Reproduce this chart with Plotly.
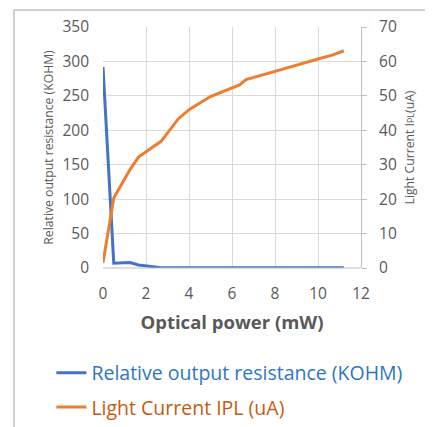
import plotly.graph_objects as go

power_mw = [0, 0.5, 1.25, 1.65, 2.7, 3.5, 4.0, 5.0, 6.35, 6.65, 8.0, 9.0, 10.0, 10.7, 11.2]
resistance_kohm = [292, 7, 8, 4.5, 0.5, 0.4, 0.4, 0.3, 0.3, 0.3, 0.3, 0.3, 0.3, 0.3, 0.3]
light_current_ua = [1.5, 20.3, 28.5, 32.2, 36.8, 43.3, 46.0, 49.8, 53.2, 54.7, 57.1, 59.0, 60.7, 61.9, 63.1]

x_ticks = [0, 2, 4, 6, 8, 10, 12]
y1_ticks = [0, 50, 100, 150, 200, 250, 300, 350]
y2_ticks = [0, 10, 20, 30, 40, 50, 60, 70]

FONT = "Open Sans, Liberation Sans, sans-serif"
GRID = "#d9d9d9"
TICKC = "#595959"

fig = go.Figure()
fig.add_trace(go.Scatter(
    x=power_mw, y=resistance_kohm, mode="lines",
    name="<span style='color:#2e75c8'>Relative output resistance (KOHM)</span>",
    legendgroup="a",
    line=dict(color="#4472C4", width=3), yaxis="y"))
fig.add_trace(go.Scatter(
    x=power_mw, y=light_current_ua, mode="lines",
    name="<span style='color:#c55a11'>Light Current IPL (uA)</span>",
    legendgroup="b",
    line=dict(color="#ED7D31", width=3), yaxis="y2"))

fig.update_layout(
    width=433, height=427,
    margin=dict(l=95, r=80, t=19, b=167, autoexpand=False),
    paper_bgcolor="white", plot_bgcolor="white",
    font=dict(family=FONT, color=TICKC),
    showlegend=True,
    legend=dict(x=-0.2, y=-0.355, xanchor="left", yanchor="top",
                font=dict(size=19.5), tracegroupgap=6, itemwidth=30,
                traceorder="grouped", bgcolor="rgba(0,0,0,0)"),
    xaxis=dict(range=[0, 12], tickvals=x_ticks, showgrid=True, gridcolor=GRID,
               zeroline=False, showline=False, tickfont=dict(size=15.5, color=TICKC),
               ticks="", ticklabelstandoff=14, automargin=False,
               title=dict(text="<b>Optical power (mW)</b>",
                          font=dict(size=18.5, color=TICKC), standoff=13)),
    yaxis=dict(range=[0, 350], tickvals=y1_ticks, showgrid=True, gridcolor=GRID,
               zeroline=False, showline=False, tickfont=dict(size=15.5, color=TICKC),
               ticks="", ticklabelstandoff=13, automargin=False,
               title=dict(text="Relative output resistance (KOHM)",
                          font=dict(size=12.2, color=TICKC), standoff=6)),
    yaxis2=dict(range=[0, 70], tickvals=y2_ticks, overlaying="y", side="right",
                showgrid=False, zeroline=False, showline=True, linecolor="#bfbfbf",
                linewidth=1, ticks="outside", ticklen=5, tickcolor="#bfbfbf",
                ticklabelstandoff=9, automargin=False,
                tickfont=dict(size=15.5, color=TICKC),
                title=dict(text="Light Current I<span style='font-size:9px'>PL</span>(uA)",
                           font=dict(size=12.2, color=TICKC), standoff=9)),
    shapes=[
        dict(type="line", xref="paper", yref="paper", x0=0, x1=1, y0=0, y1=0,
             line=dict(color="#bfbfbf", width=1)),
    ],
    annotations=[
        dict(xref="paper", yref="paper", x=-0.349, y=1.075, xanchor="left", yanchor="top",
             text="", showarrow=False, width=480, height=480, borderpad=0,
             bordercolor="#d0d0d0", borderwidth=2),
    ],
)

fig.write_html("out.html")
